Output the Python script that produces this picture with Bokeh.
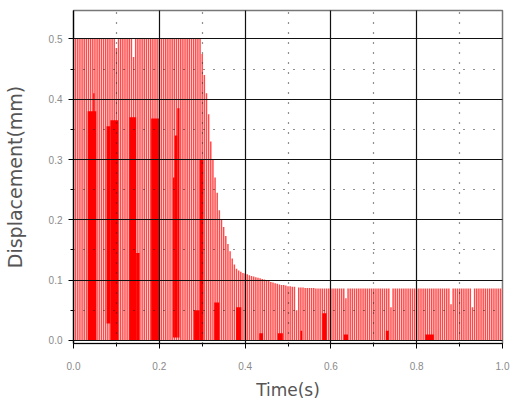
from bokeh.plotting import figure
from bokeh.models import FixedTicker, PrintfTickFormatter, Range1d, ColumnDataSource
from bokeh.embed import file_html
from bokeh.resources import INLINE

# ---- data ----
sample_step = 0.005  # s between oscillation peaks
peaks = [
    # 0.000 - 0.295 s (clipped at 0.5)
    0.5, 0.5, 0.5, 0.5, 0.5, 0.5, 0.5, 0.5, 0.5, 0.5,
    0.5, 0.5, 0.5, 0.5, 0.5, 0.5, 0.5, 0.5, 0.5, 0.5,
    0.485, 0.5, 0.5, 0.5, 0.5, 0.5, 0.5, 0.5, 0.47, 0.5,
    0.5, 0.5, 0.5, 0.5, 0.5, 0.5, 0.5, 0.5, 0.5, 0.5,
    0.5, 0.5, 0.5, 0.5, 0.5, 0.5, 0.5, 0.5, 0.5, 0.5,
    0.5, 0.5, 0.5, 0.5, 0.5, 0.5, 0.5, 0.5, 0.5, 0.5,
    # 0.300 - 0.495 s (decay)
    0.475, 0.44, 0.41, 0.375, 0.33, 0.30, 0.27, 0.245, 0.216, 0.200,
    0.188, 0.173, 0.160, 0.148, 0.136, 0.126, 0.119, 0.116, 0.114, 0.112,
    0.111, 0.110, 0.108, 0.107, 0.106, 0.105, 0.104, 0.103, 0.102, 0.101,
    0.100, 0.099, 0.097, 0.096, 0.095, 0.094, 0.093, 0.092, 0.092, 0.091,
    # 0.500 - 0.695 s
    0.090, 0.090, 0.089, 0.089, 0.050, 0.088, 0.088, 0.088, 0.087, 0.087,
    0.087, 0.087, 0.087, 0.086, 0.086, 0.086, 0.086, 0.086, 0.086, 0.086,
    0.086, 0.086, 0.086, 0.086, 0.086, 0.086, 0.086, 0.070, 0.086, 0.086,
    0.086, 0.086, 0.086, 0.086, 0.086, 0.086, 0.086, 0.086, 0.086, 0.086,
    # 0.700 - 0.895 s
    0.086, 0.086, 0.086, 0.086, 0.086, 0.086, 0.086, 0.086, 0.055, 0.086,
    0.086, 0.086, 0.086, 0.086, 0.086, 0.086, 0.086, 0.086, 0.086, 0.086,
    0.086, 0.086, 0.086, 0.086, 0.086, 0.086, 0.086, 0.086, 0.086, 0.086,
    0.086, 0.086, 0.086, 0.086, 0.086, 0.086, 0.060, 0.086, 0.086, 0.086,
    # 0.900 - 1.000 s
    0.086, 0.086, 0.086, 0.086, 0.086, 0.086, 0.055, 0.086, 0.086, 0.086,
    0.086, 0.086, 0.086, 0.086, 0.086, 0.086, 0.086, 0.086, 0.086, 0.086,
    0.086,
]
times = [round(i * sample_step, 3) for i in range(len(peaks))]

# dense (saturated) regions of the trace
band_start = [0.033, 0.046, 0.077, 0.086, 0.130, 0.146, 0.181, 0.232, 0.236, 0.242,
              0.281, 0.294, 0.328, 0.379, 0.433, 0.476, 0.529, 0.580, 0.630, 0.728, 0.820]
band_end = [0.053, 0.049, 0.086, 0.104, 0.146, 0.154, 0.200, 0.236, 0.242, 0.247,
            0.294, 0.303, 0.340, 0.391, 0.442, 0.488, 0.533, 0.590, 0.640, 0.735, 0.840]
band_bottom = [0.0, 0.0, 0.028, 0.0, 0.0, 0.0, 0.0, 0.005, 0.005, 0.005,
               0.0, 0.0, 0.0, 0.0, 0.0, 0.0, 0.0, 0.0, 0.0, 0.0, 0.0]
band_top = [0.38, 0.41, 0.355, 0.365, 0.37, 0.145, 0.368, 0.27, 0.34, 0.385,
            0.05, 0.30, 0.063, 0.055, 0.012, 0.012, 0.016, 0.045, 0.01, 0.016, 0.01]

x_major = [0.0, 0.2, 0.4, 0.6, 0.8, 1.0]
x_minor = [0.1, 0.3, 0.5, 0.7, 0.9]
y_major = [0.0, 0.1, 0.2, 0.3, 0.4, 0.5]
y_minor = [0.05, 0.15, 0.25, 0.35, 0.45]

p = figure(width=512, height=402, output_backend="svg", toolbar_location=None,
           x_range=Range1d(0, 1.0), y_range=Range1d(-0.005, 0.547),
           min_border_left=72, min_border_right=10, min_border_top=10, min_border_bottom=59)
p.background_fill_color = "white"
p.border_fill_color = "white"
p.outline_line_color = "#777777"
p.outline_line_width = 1.5

src = ColumnDataSource(dict(t=times, peak=peaks))
p.vbar(x="t", top="peak", bottom=0, width=0.0034, source=src,
       fill_color="#ff4848", line_color=None)

bsrc = ColumnDataSource(dict(l=band_start, r=band_end, b=band_bottom, t=band_top))
p.quad(left="l", right="r", bottom="b", top="t", source=bsrc,
       fill_color="#ff0000", line_color=None)

p.xaxis.ticker = FixedTicker(ticks=x_major, minor_ticks=x_minor)
p.yaxis.ticker = FixedTicker(ticks=y_major, minor_ticks=y_minor)
p.xaxis.formatter = PrintfTickFormatter(format="%.1f")
p.yaxis.formatter = PrintfTickFormatter(format="%.1f")

for ax in (p.xaxis, p.yaxis):
    ax.axis_line_color = "black"
    ax.axis_line_width = 1.2
    ax.major_tick_line_color = "black"
    ax.minor_tick_line_color = "black"
    ax.major_tick_in = 0
    ax.major_tick_out = 5
    ax.minor_tick_in = 0
    ax.minor_tick_out = 3
    ax.major_label_text_font = "Liberation Sans"
    ax.major_label_text_font_size = "10px"
    ax.major_label_text_color = "#8a8a8a"
    ax.axis_label_text_font = "DejaVu Sans"
    ax.axis_label_text_font_style = "normal"
    ax.axis_label_text_color = "#555555"

p.xaxis.axis_label = "Time(s)"
p.yaxis.axis_label = "Displacement(mm)"
p.xaxis.axis_label_text_font_size = "17px"
p.yaxis.axis_label_text_font_size = "19px"
p.xaxis.major_label_standoff = 13
p.yaxis.major_label_standoff = 6
p.xaxis.axis_label_standoff = 7
p.yaxis.axis_label_standoff = 20

for g in (p.xgrid, p.ygrid):
    g.level = "annotation"
    g.grid_line_color = "#111111"
    g.grid_line_width = 1.2
    g.minor_grid_line_color = "#222222"
    g.minor_grid_line_dash = "1 9"
    g.minor_grid_line_width = 1.2

open("out.html", "w").write(file_html(p, INLINE))
